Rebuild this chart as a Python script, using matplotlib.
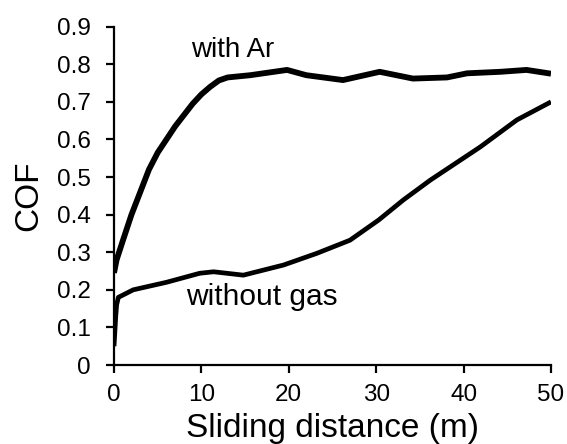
import matplotlib
matplotlib.use("Agg")
import matplotlib.pyplot as plt

plt.rcParams['font.family'] = ['Liberation Sans', 'DejaVu Sans']

# with Ar curve (sliding distance m, COF)
ar_x = [0.0, 0.3, 1.0, 2.0, 3.0, 4.0, 5.0, 6.0, 7.0, 8.0, 9.0, 10.0, 11.0, 12.0, 13.0,
        15.6, 19.8, 22.0, 26.2, 30.4, 34.2, 38.1, 40.4, 44.2, 47.2, 50.0]
ar_y = [0.245, 0.28, 0.33, 0.40, 0.46, 0.52, 0.565, 0.60, 0.635, 0.665, 0.695, 0.72, 0.74,
        0.757, 0.765, 0.771, 0.785, 0.771, 0.758, 0.78, 0.762, 0.765, 0.776, 0.78, 0.785, 0.775]

# without gas curve
ng_x = [0.0, 0.1, 0.2, 0.3, 0.5, 2.2, 6.0, 9.8, 11.4, 14.8, 19.4, 23.2, 27.0, 30.3, 33.1,
        36.2, 41.9, 46.1, 50.0]
ng_y = [0.05, 0.09, 0.13, 0.16, 0.18, 0.2, 0.22, 0.244, 0.248, 0.239, 0.266, 0.297, 0.332,
        0.386, 0.439, 0.492, 0.58, 0.652, 0.70]

x_ticks = [0, 10, 20, 30, 40, 50]
y_ticks = [0, 0.1, 0.2, 0.3, 0.4, 0.5, 0.6, 0.7, 0.8, 0.9]
y_tick_labels = ['0', '0.1', '0.2', '0.3', '0.4', '0.5', '0.6', '0.7', '0.8', '0.9']

W, H = 567, 444
fig = plt.figure(figsize=(W / 100, H / 100), dpi=100)
ax = fig.add_axes([114 / W, 1 - 365 / H, (551 - 114) / W, (365 - 26.7) / H])

ax.plot(ar_x, ar_y, color='black', lw=4.2, solid_capstyle='butt', solid_joinstyle='round')
ax.plot(ng_x, ng_y, color='black', lw=3.4, solid_capstyle='butt', solid_joinstyle='round')

ax.set_xlim(0, 50)
ax.set_ylim(0, 0.9)
ax.set_xticks(x_ticks)
ax.set_yticks(y_ticks)
ax.set_yticklabels(y_tick_labels)

for s in ['top', 'right']:
    ax.spines[s].set_visible(False)
for s in ['left', 'bottom']:
    ax.spines[s].set_linewidth(1.6)
ax.spines['left'].set_bounds(0, 0.9)

ax.tick_params(axis='both', direction='out', length=6, width=1.6, labelsize=17.5, color='black')
ax.tick_params(axis='y', pad=11)
ax.tick_params(axis='x', pad=8)

ax.set_xlabel('Sliding distance (m)', fontsize=24, labelpad=5)
ax.set_ylabel('COF', fontsize=24, labelpad=9)

ax.text(8.8, 0.82, 'with Ar', fontsize=20, ha='left', va='baseline')
ax.text(8.2, 0.16, 'without gas', fontsize=21.5, ha='left', va='baseline')

fig.savefig('out.png', dpi=100)
